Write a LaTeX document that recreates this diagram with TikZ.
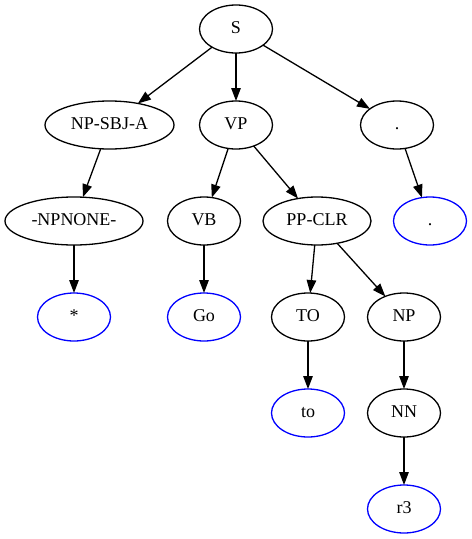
\documentclass[tikz,border=0pt]{standalone}
\usepackage{fontspec}
\setmainfont{Liberation Serif}
\usepackage{tikz}
\usetikzlibrary{arrows.meta,positioning,shapes.geometric}
\definecolor{leafBlue}{RGB}{0,0,255}
\tikzset{
  tag/.style={ellipse, draw=black, line width=1.3bp, minimum width=73bp, minimum height=48bp, inner sep=0pt, outer sep=0pt, text height=13bp, text depth=4bp, font=\fontsize{18bp}{21bp}\selectfont},
  leaf/.style={tag, draw=leafBlue},
  arrow/.style={-{Triangle[length=13bp, width=9.5bp]}, line width=1.3bp, draw=black}
}

\begin{document}
\begin{tikzpicture}[node distance=48bp]
  \useasboundingbox (0,0) rectangle (472bp,-539bp);
  \node[tag] (s) at (236bp,-29bp) {S};
  \node[tag, minimum width=129bp, below=of s, xshift=-126.5bp] (npsbj) {NP-SBJ-A};
  \node[tag, below=of s] (vp) {VP};
  \node[tag, below=of s, xshift=161bp] (punct) {.};
  \node[tag, minimum width=138bp, below=of npsbj, xshift=-35.5bp] (npnone) {-NPNONE-};
  \node[tag, below=of vp, xshift=-32bp] (vb) {VB};
  \node[tag, minimum width=108bp, below=of vp, xshift=81bp] (ppclr) {PP-CLR};
  \node[leaf, below=of punct, xshift=33bp] (punctw) {.};
  \node[leaf, below=of npnone] (star) {*};
  \node[leaf, below=of vb] (go) {Go};
  \node[tag, below=of ppclr, xshift=-9bp] (to) {TO};
  \node[tag, below=of ppclr, xshift=87bp] (np) {NP};
  \node[leaf, below=of to] (tow) {to};
  \node[tag, below=of np] (nn) {NN};
  \node[leaf, below=of nn] (rthree) {r3};
  \draw[arrow] (s) -- (npsbj);
  \draw[arrow] (s) -- (vp);
  \draw[arrow] (s) -- (punct);
  \draw[arrow] (npsbj) -- (npnone);
  \draw[arrow] (npnone) -- (star);
  \draw[arrow] (vp) -- (vb);
  \draw[arrow] (vp) -- (ppclr);
  \draw[arrow] (vb) -- (go);
  \draw[arrow] (ppclr) -- (to);
  \draw[arrow] (ppclr) -- (np);
  \draw[arrow] (to) -- (tow);
  \draw[arrow] (np) -- (nn);
  \draw[arrow] (nn) -- (rthree);
  \draw[arrow] (punct) -- (punctw);
\end{tikzpicture}
\end{document}
